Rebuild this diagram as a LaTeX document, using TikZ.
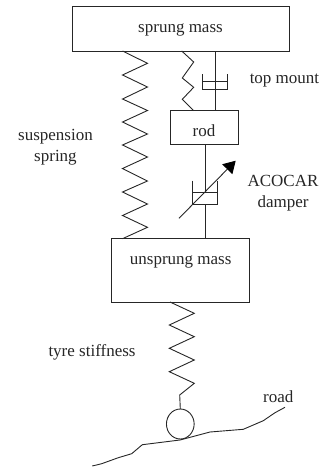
\documentclass[tikz,border=0pt]{standalone}
\usepackage{fontspec}
\setmainfont{Liberation Serif}
\usetikzlibrary{arrows.meta,shapes.geometric}
\tikzset{
  mass/.style={draw,rectangle,inner sep=0pt,outer sep=0pt},
  txt/.style={inner sep=0pt,align=center,anchor=base,font=\fontsize{17}{21}\selectfont},
  wire/.style={line width=0.9pt,line join=miter}
}
\begin{document}
\begin{tikzpicture}[x=1pt,y=-1pt,line width=0.9pt,color=black!85]
\useasboundingbox (0,0) rectangle (325,467);
\node[mass, minimum width=217pt, minimum height=45pt] (sprung) at (180.5,28.5) {};
\node[mass, minimum width=68.4pt, minimum height=33.6pt] (rod) at (204.5,127.5) {};
\node[mass, minimum width=137.3pt, minimum height=63.3pt] (unsprung) at (180.3,270.3) {};
\node[draw, ellipse, inner sep=0pt, outer sep=0pt, minimum width=27.7pt, minimum height=30pt] (wheel) at (180.3,424) {};

\node[txt] (sprungtxt) at (180.5,32.2) {sprung mass};
\node[txt] (rodtxt) at (204,136) {rod};
\node[txt] (unsprungtxt) at (180.7,264) {unsprung mass};
\node[txt, anchor=base west] (mounttxt) at (249.3,83.3) {top mount};
\node[txt] (springtxt) at (55.5,161.7) {suspension\\spring};
\node[txt] (dampertxt) at (283,207.7) {ACOCAR\\damper};
\node[txt, anchor=base east] (tyretxt) at (136,356.7) {tyre stiffness};
\node[txt] (roadtxt) at (278.3,402.3) {road};

\coordinate (m1) at (215,51);
\coordinate (m2) at (215,81);
\coordinate (m3) at (215,110.7);
\coordinate (d1) at (205,144.3);
\coordinate (d2) at (205,192.3);
\coordinate (d3) at (205,204);
\coordinate (d4) at (205,238.7);
\coordinate (t1) at (179.7,395);
\coordinate (a1) at (179,218.3);
\coordinate (a2) at (235.7,160.7);

% main spring
\draw[wire] (122.5,51) -- (147.5,63.3) -- (122.5,75) -- (147.5,87) -- (122.5,99) -- (147.5,110.5) -- (122.5,122) -- (147.5,134) -- (122.5,145) -- (147.5,157) -- (122.5,168.5) -- (147.5,181) -- (122.5,192) -- (147.5,204) -- (122.5,215.5) -- (147.5,227.3) -- (122.5,238.7);
% top mount
\draw[wire] (181.7,51) -- (193.7,62) -- (182.3,78) -- (193.7,87.3) -- (182.3,99.3) -- (193.7,110.7);
\draw[wire] (m1) -- (m3);
\draw[wire] (202.3,74) -- (202.3,89.3) -- (227.3,89.3) -- (227.3,74);
\draw[wire] (202.3,81) -- (227.3,81);
% damper
\draw[wire] (d1) -- (d2);
\draw[wire] (d3) -- (d4);
\draw[wire] (192,180.7) -- (192,204) -- (217,204) -- (217,180.7);
\draw[wire] (192,192.3) -- (217,192.3);
\draw[wire,-{Triangle[length=12pt,width=14pt,color=black]}] (a1) -- (a2);
% tyre
\draw[wire] (170,302) -- (194.3,313.3) -- (169.3,325) -- (194.3,336.7) -- (169.3,348.3) -- (194.3,360) -- (169.3,371.7) -- (194.3,383.3) -- (t1) -- (wheel.north);
% road
\draw[wire] (92.3,466) -- (101.7,463.7) -- (118.3,457.7) -- (131.7,453.7) -- (142.3,444.7) -- (180,440) -- (210,432) -- (243.3,429.3) -- (263.3,420.7) -- (275,412.7) -- (285,407.3);
\end{tikzpicture}
\end{document}
